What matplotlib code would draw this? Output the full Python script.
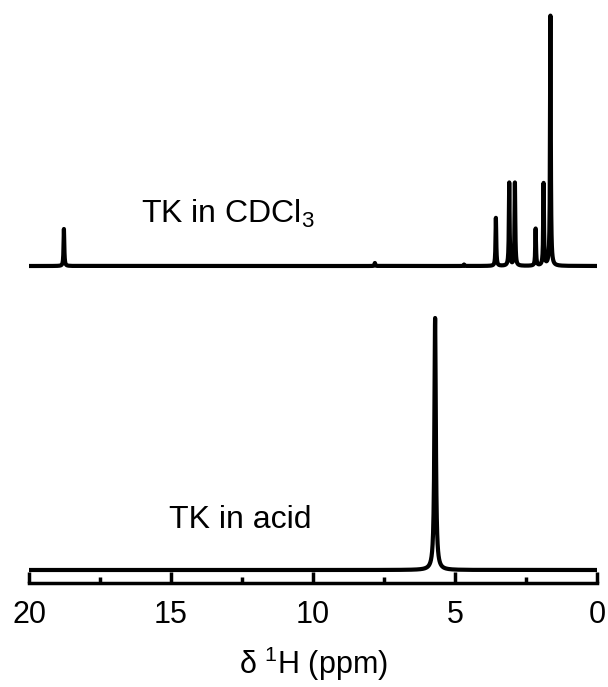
import matplotlib
matplotlib.use("Agg")
import matplotlib.pyplot as plt
import numpy as np

plt.rcParams['font.family'] = ['Liberation Sans', 'DejaVu Sans']
plt.rcParams['mathtext.default'] = 'regular'

# peak positions (ppm) and intensities (arb. units)
cdcl3_shift = [18.77, 7.82, 4.68, 3.56, 3.09, 2.89, 2.16, 1.88, 1.64]
cdcl3_height = [37, 3, 1.5, 48, 83, 83, 37, 82, 250]
acid_shift = [5.70]
acid_height = [252]

ppm = np.linspace(0, 20, 20001)


def spectrum(shifts, heights, hw):
    y = np.zeros_like(ppm)
    for s, h in zip(shifts, heights):
        y += h * hw**2 / ((ppm - s)**2 + hw**2)
    return y


fig = plt.figure(figsize=(6.08, 6.87), dpi=100)
ax = fig.add_axes([29/608, 1 - 583/687, 568/608, 583/687])

ax.plot(ppm, spectrum(acid_shift, acid_height, 0.03) + 13, color='k', lw=3)
ax.plot(ppm, spectrum(cdcl3_shift, cdcl3_height, 0.015) + 317, color='k', lw=3)

ax.text(13.0, 360, 'TK in CDCl$_3$', fontsize=23, ha='center', va='baseline')
ax.text(12.57, 55, 'TK in acid', fontsize=23, ha='center', va='baseline')

ax.set_xlim(20, 0)
ax.set_ylim(0, 583)
ax.set_xticks([20, 15, 10, 5, 0])
ax.set_xticks([17.5, 12.5, 7.5, 2.5], minor=True)
ax.set_yticks([])
for s in ['top', 'left', 'right']:
    ax.spines[s].set_visible(False)
ax.spines['bottom'].set_linewidth(2.5)
ax.tick_params(axis='x', which='major', direction='in', length=8, width=2.5, labelsize=22, pad=12)
ax.tick_params(axis='x', which='minor', direction='in', length=4, width=2.5)
ax.set_xlabel('δ $^1$H (ppm)', fontsize=22, labelpad=11)

fig.savefig('out.png', dpi=100)
